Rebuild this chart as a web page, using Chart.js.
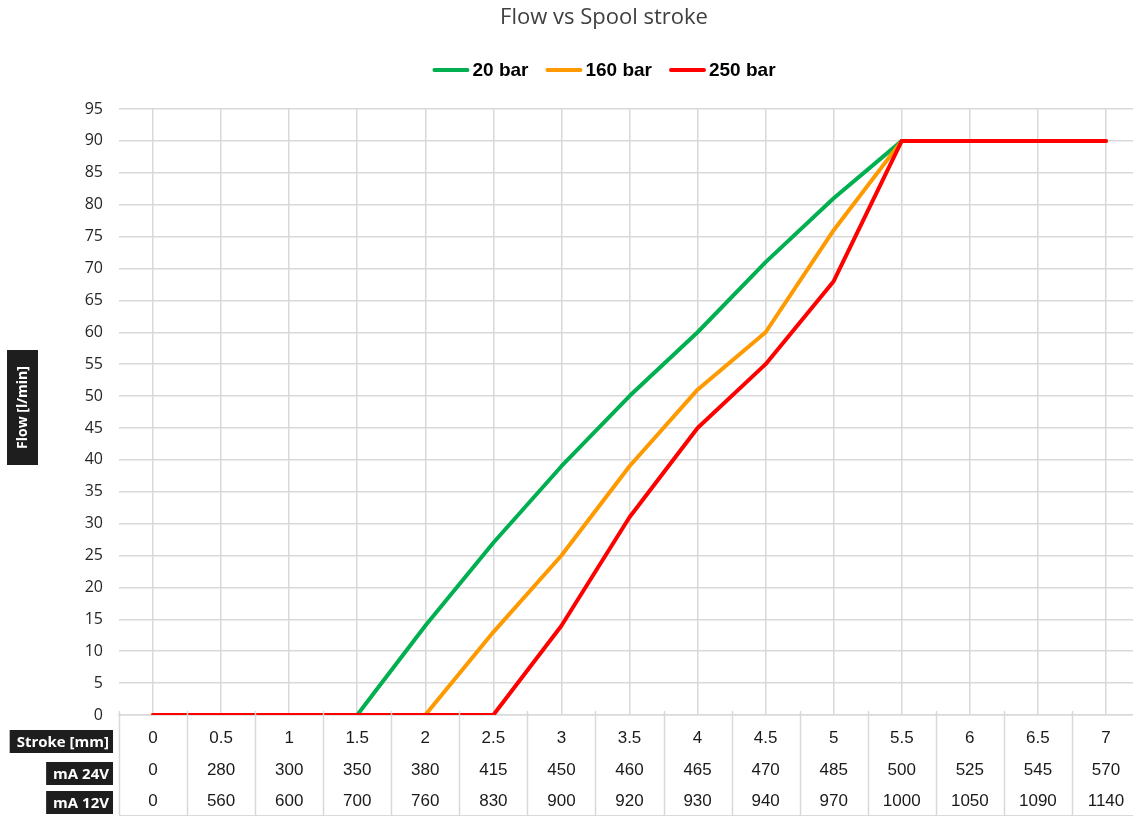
<!DOCTYPE html>
<html><head><meta charset="utf-8">
<script src="https://cdn.jsdelivr.net/npm/chart.js@4.4.1/dist/chart.umd.min.js"></script>
<style>
html,body{margin:0;padding:0;overflow:hidden;background:#fff;width:1133px;height:817px}
#wrap{position:relative;width:1208px;height:817px}
</style></head>
<body><div id="wrap"><canvas id="c" width="1208" height="817"></canvas></div>
<script>
const chartTitle = 'Flow vs Spool stroke';
const yAxisTitle = 'Flow [l/min]';
const strokeLabels = ['0','0.5','1','1.5','2','2.5','3','3.5','4','4.5','5','5.5','6','6.5','7'];
const mA24V = [0,280,300,350,380,415,450,460,465,470,485,500,525,545,570];
const mA12V = [0,560,600,700,760,830,900,920,930,940,970,1000,1050,1090,1140];
const flow20  = [0,0,0,0,14,27,39,50,60,71,81,90,90,90,90];
const flow160 = [0,0,0,0,0,13,25,39,51,60,76,90,90,90,90];
const flow250 = [0,0,0,0,0,0,14,31,45,55,68,90,90,90,90];
const seriesNames = ['20 bar','160 bar','250 bar'];
const seriesColors = ['#00B050','#FF9900','#FF0000'];
const tableRowLabels = ['Stroke [mm]','mA 24V','mA 12V'];
const tableRows = [strokeLabels, mA24V, mA12V];

const GRID = '#d9d9d9';

const extras = {
  id: 'extras',
  afterDraw(chart) {
    const ctx = chart.ctx;
    const xs = chart.scales.x;
    const area = chart.chartArea;
    ctx.save();
    // title
    ctx.fillStyle = '#404040';
    ctx.font = '22px "Open Sans"';
    ctx.textAlign = 'center';
    ctx.textBaseline = 'middle';
    ctx.fillText(chartTitle, 604, 18);

    // legend
    ctx.font = 'bold 19px "Liberation Sans"';
    const lineW = 37, gapT = 3, gapItem = 17;
    const widths = seriesNames.map(n => lineW + gapT + ctx.measureText(n).width);
    const total = widths.reduce((a,b)=>a+b,0) + gapItem*(seriesNames.length-1);
    let lx = 604 - total/2;
    const ly = 70;
    seriesNames.forEach((n,i) => {
      ctx.strokeStyle = seriesColors[i];
      ctx.lineWidth = 4;
      ctx.lineCap = 'round';
      ctx.beginPath(); ctx.moveTo(lx+2, ly); ctx.lineTo(lx+lineW-2, ly); ctx.stroke();
      ctx.fillStyle = '#000';
      ctx.textAlign = 'left';
      ctx.fillText(n, lx + lineW + gapT, ly + 1);
      lx += widths[i] + gapItem;
    });

    // y axis title box
    ctx.fillStyle = '#1e1e1e';
    ctx.fillRect(7, 350, 31, 115);
    ctx.save();
    ctx.translate(23, 407.5);
    ctx.rotate(-Math.PI/2);
    ctx.fillStyle = '#fff';
    ctx.font = 'bold 14px "Open Sans"';
    ctx.textAlign = 'center';
    ctx.textBaseline = 'middle';
    ctx.fillText(yAxisTitle, 0, 0);
    ctx.restore();

    // data table
    const n = strokeLabels.length;
    const cw = (area.right - area.left) / n;
    ctx.strokeStyle = GRID;
    ctx.lineWidth = 1.5;
    ctx.lineCap = 'butt';
    for (let k = 0; k <= n; k++) {
      const x = Math.round(area.left + k*cw) + 0.5;
      ctx.beginPath(); ctx.moveTo(x, area.bottom - 4); ctx.lineTo(x, 815); ctx.stroke();
    }
    ctx.lineWidth = 1;
    ctx.beginPath(); ctx.moveTo(area.left, 815.5); ctx.lineTo(area.right, 815.5); ctx.stroke();

    const rowY = [738, 770, 801];
    const boxes = [[730,753],[762,785],[791,814]];
    ctx.textBaseline = 'middle';
    tableRows.forEach((row, r) => {
      ctx.font = '17px "Liberation Sans"';
      ctx.fillStyle = '#1a1a1a';
      ctx.textAlign = 'center';
      row.forEach((v, i) => {
        ctx.fillText(String(v), xs.getPixelForValue(i), rowY[r]);
      });
      ctx.font = 'bold 15px "Open Sans"';
      const tw = ctx.measureText(tableRowLabels[r]).width;
      const right = 113;
      ctx.fillStyle = '#1e1e1e';
      ctx.fillRect(right - tw - 11, boxes[r][0], tw + 11, boxes[r][1]-boxes[r][0]);
      ctx.fillStyle = '#fff';
      ctx.textAlign = 'right';
      ctx.fillText(tableRowLabels[r], right - 4, (boxes[r][0]+boxes[r][1])/2 + 1);
    });
    ctx.restore();
  }
};

const mk = (label, data, color, order) => ({
  label, data, borderColor: color, backgroundColor: color,
  borderWidth: 4, pointRadius: 0, pointHoverRadius: 0, tension: 0,
  fill: false, borderJoinStyle: 'round', borderCapStyle: 'round', order
});

new Chart(document.getElementById('c'), {
  type: 'line',
  data: {
    labels: strokeLabels,
    datasets: [
      mk(seriesNames[0], flow20, seriesColors[0], 3),
      mk(seriesNames[1], flow160, seriesColors[1], 2),
      mk(seriesNames[2], flow250, seriesColors[2], 1)
    ]
  },
  options: {
    responsive: false,
    devicePixelRatio: 1,
    animation: false,
    layout: { padding: { top: 109, bottom: 102, left: 0, right: 68 } },
    plugins: { legend: { display: false }, title: { display: false }, tooltip: { enabled: false } },
    scales: {
      x: {
        type: 'category',
        offset: true,
        ticks: { display: false },
        grid: { offset: false, color: GRID, lineWidth: 1.5, drawTicks: false },
        border: { display: true, color: GRID, width: 1.5 },
        afterFit(s) { s.height = 0; }
      },
      y: {
        min: 0, max: 95,
        ticks: { stepSize: 5, color: '#262626', font: { family: 'Open Sans', size: 16 }, padding: 16 },
        grid: { color: GRID, lineWidth: 1.5, drawTicks: false },
        border: { display: false },
        afterFit(s) { s.width = 119; }
      }
    }
  },
  plugins: [extras]
});
</script>
</body></html>
